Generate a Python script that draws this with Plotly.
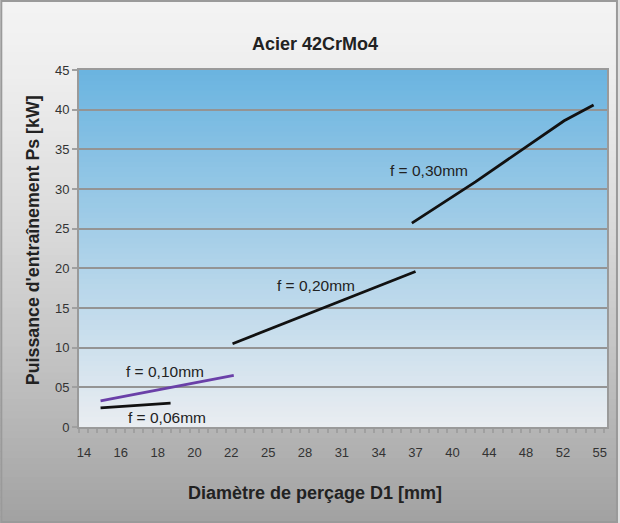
import numpy as np
import plotly.graph_objects as go

# Axis tick values (diameter D1 in mm) shown evenly spaced along the x axis
d1_ticks = [14, 16, 18, 20, 22, 25, 28, 31, 34, 37, 40, 44, 48, 52, 55]
ps_ticks = [0, 5, 10, 15, 20, 25, 30, 35, 40, 45]
ps_ticklabels = ["0", "05", "10", "15", "20", "25", "30", "35", "40", "45"]

# Drive power Ps [kW] against drilling diameter D1 [mm], per feed f
d_f006 = [14.9, 18.7]
p_f006 = [2.4, 3.0]

d_f010 = [14.9, 22.2]
p_f010 = [3.3, 6.5]

d_f020 = [22.1, 37.0]
p_f020 = [10.5, 19.6]

d_f030 = [36.7, 42.5, 52.1, 54.5]
p_f030 = [25.7, 30.9, 38.6, 40.6]

series_names = ["f = 0,06mm", "f = 0,10mm", "f = 0,20mm", "f = 0,30mm"]

W, H = 620, 523
PL, PR, PT, PB = 79, 609, 70, 427  # plot area in pixels


def px_x(x):
    return (x - PL) / (PR - PL)


def px_y(y):
    return (PB - y) / (PB - PT)


tick_idx = np.arange(len(d1_ticks))


def to_axis(d):
    # evenly spaced category-like axis: place diameters between their ticks
    return np.interp(d, d1_ticks, tick_idx)


fig = go.Figure()

line_styles = [
    (d_f006, p_f006, "#111111"),
    (d_f010, p_f010, "#6a40a8"),
    (d_f020, p_f020, "#111111"),
    (d_f030, p_f030, "#111111"),
]
for (d, p, col), name in zip(line_styles, series_names):
    fig.add_trace(go.Scatter(
        x=to_axis(d), y=p, mode="lines", name=name,
        line=dict(color=col, width=2.8), showlegend=False, hoverinfo="skip",
    ))

shapes = []

# Grey gradient behind the whole figure
N = 80
for i in range(N):
    y0 = i * H / N
    y1 = (i + 1) * H / N + 0.8
    t = ((i + 0.5) / N) ** 1.4
    c = int(round(243 - 82 * t))
    shapes.append(dict(
        type="rect", xref="paper", yref="paper", layer="below",
        x0=px_x(0), x1=px_x(W), y0=px_y(y1), y1=px_y(y0),
        fillcolor=f"rgb({c},{c},{c})", line=dict(width=0),
    ))

# Blue gradient inside the plot area
top = np.array([106, 180, 224])
bot = np.array([234, 237, 241])
M = 70
for i in range(M):
    y0 = PT + i * (PB - PT) / M
    y1 = PT + (i + 1) * (PB - PT) / M + 0.8
    t = (i + 0.5) / M
    r, g, b = (top + (bot - top) * t).round().astype(int)
    shapes.append(dict(
        type="rect", xref="paper", yref="paper", layer="below",
        x0=0, x1=1, y0=max(px_y(y1), 0), y1=px_y(y0),
        fillcolor=f"rgb({r},{g},{b})", line=dict(width=0),
    ))

# Figure frame
shapes.append(dict(
    type="rect", xref="paper", yref="paper", layer="above",
    x0=px_x(1), x1=px_x(W - 1), y0=px_y(H - 1), y1=px_y(1),
    line=dict(color="#9a9a9a", width=2), fillcolor="rgba(0,0,0,0)",
))

txt = "#222222"
annotations = [
    dict(text="<b>Acier 42CrMo4</b>", xref="paper", yref="paper",
         x=px_x(316), y=px_y(44), showarrow=False,
         font=dict(size=18, color=txt), xanchor="center", yanchor="middle"),
    dict(text="<b>Diamètre de perçage D1 [mm]</b>", xref="paper", yref="paper",
         x=px_x(316), y=px_y(493), showarrow=False,
         font=dict(size=18, color=txt), xanchor="center", yanchor="middle"),
    dict(text="<b>Puissance d'entraînement Ps [kW]</b>", xref="paper", yref="paper",
         x=px_x(33), y=px_y(240), showarrow=False, textangle=-90,
         font=dict(size=17.8, color=txt), xanchor="center", yanchor="middle"),
]

label_pos = [(167, 417), (165, 371), (317, 285), (430, 170)]
for name, (lx, ly) in zip(series_names, label_pos):
    annotations.append(dict(
        text=name, xref="paper", yref="paper", x=px_x(lx), y=px_y(ly),
        showarrow=False, font=dict(size=15.5, color=txt),
        xanchor="center", yanchor="middle",
    ))

fig.update_layout(
    width=W, height=H,
    margin=dict(l=PL, r=W - PR, t=PT, b=H - PB, pad=0),
    paper_bgcolor="#e0e0e0",
    plot_bgcolor="rgba(0,0,0,0)",
    font=dict(family="Liberation Sans, Arial, sans-serif", color="#333333"),
    shapes=shapes,
    annotations=annotations,
    showlegend=False,
)

fig.update_xaxes(
    range=[-0.135, 14.197],
    tickmode="array", tickvals=tick_idx, ticktext=[str(v) for v in d1_ticks],
    ticks="", showgrid=False, zeroline=False,
    showline=True, linecolor="#9a9a9a", linewidth=2, mirror=True,
    tickfont=dict(size=13, color="#333333"),
    ticklabelstandoff=12,
    minor=dict(ticks="outside", ticklen=4, tickcolor="#a0a0a0", tickwidth=1.5,
               tick0=-0.135, dtick=0.25, showgrid=False),
)
fig.update_yaxes(
    range=[0, 45],
    tickmode="array", tickvals=ps_ticks, ticktext=ps_ticklabels,
    ticks="outside", ticklen=5, tickcolor="#a0a0a0", tickwidth=1.5,
    showgrid=True, gridcolor="#949494", gridwidth=2,
    zeroline=False,
    showline=True, linecolor="#9a9a9a", linewidth=2, mirror=True,
    tickfont=dict(size=13, color="#333333"),
)

fig.write_html("out.html")
